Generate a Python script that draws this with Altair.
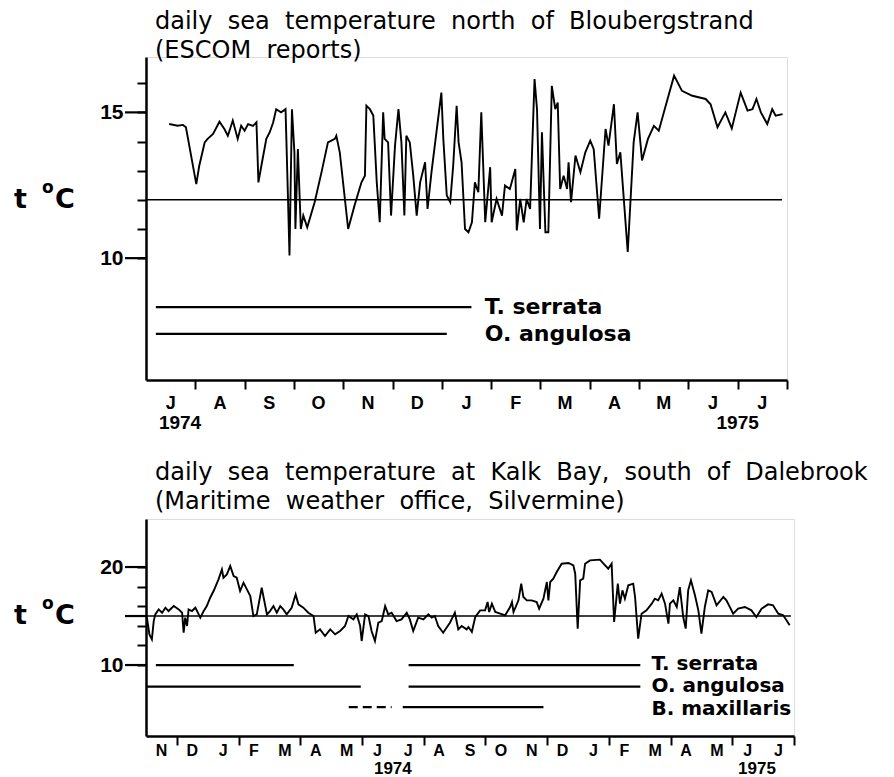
import altair as alt
import pandas as pd

# ---------------- top panel: Bloubergstrand (months since 1 Jul 1974) ----------------
top_month = [0.47,0.64,0.75,0.81,1.02,1.08,1.19,1.25,1.36,1.49,1.59,1.66,1.76,1.86,1.93,
             2.00,2.07,2.17,2.24,2.28,2.34,2.44,2.51,2.58,2.64,2.74,2.83,2.88,2.91,2.96,
             3.01,3.03,3.08,3.14,3.19,3.27,3.42,3.56,3.69,3.83,3.86,3.93,
             4.10,4.23,4.37,4.44,4.47,4.54,4.61,4.68,4.74,4.81,4.84,4.91,4.97,
             5.05,5.12,5.18,5.24,5.28,5.35,5.42,5.49,5.56,5.66,5.71,5.79,5.99,
             6.03,6.10,6.17,6.23,6.30,6.34,6.40,6.47,6.54,6.61,6.67,6.74,6.80,
             6.88,6.98,
             7.01,7.11,7.22,7.28,7.38,7.49,7.52,7.59,7.66,7.72,7.79,7.88,7.93,7.99,
             8.03,8.10,8.16,8.23,8.30,8.35,8.40,8.47,8.54,8.57,8.62,8.71,8.81,8.91,
             9.01,9.08,9.19,9.32,9.38,9.49,9.55,9.62,9.77,9.89,9.97,
             10.06,10.18,10.30,10.40,10.52,10.71,10.87,
             11.08,11.35,11.45,11.59,11.75,11.88,
             12.06,12.20,12.30,12.38,12.47,12.60,12.70,12.77,12.91]
top_temp = [14.60,14.54,14.57,14.49,12.54,13.17,13.97,14.09,14.26,14.68,14.43,14.20,14.72,14.09,14.54,
            14.37,14.60,14.54,14.66,12.60,13.17,14.09,14.32,14.66,15.11,15.00,15.11,12.03,10.09,15.11,
            13.63,11.00,13.74,11.00,11.46,11.06,11.92,12.95,13.97,14.09,14.20,13.63,
            11.00,11.81,12.60,12.83,15.23,15.11,14.89,12.60,11.23,15.00,14.09,13.97,11.46,
            13.86,15.11,13.97,11.46,14.20,13.97,12.83,11.46,12.60,13.29,11.69,12.95,15.68,
            14.09,12.15,11.92,13.17,15.23,13.97,13.29,11.00,10.89,11.23,12.60,12.26,15.00,
            11.23,13.12,
            11.23,12.03,11.46,12.49,12.37,13.06,10.95,12.03,11.23,12.03,11.69,16.14,15.11,11.00,
            14.32,10.89,10.89,15.91,15.11,15.34,12.37,12.83,12.37,13.29,11.92,13.52,12.95,13.63,
            14.03,13.74,11.35,14.43,13.86,15.28,13.23,13.63,10.21,13.97,15.00,
            13.35,14.09,14.54,14.37,15.11,16.26,15.74,
            15.57,15.46,15.28,14.49,15.00,14.45,
            15.68,15.06,15.11,15.46,15.00,14.60,15.11,14.89,14.94]
top_months_lbl = ["J", "A", "S", "O", "N", "D", "J", "F", "M", "A", "M", "J", "J"]
top_years = ["1974", "1975"]
top_year_pos = [0.69, 12.0]
top_ref = 12
top_ref_end = 12.9
top_sp_name = ["T. serrata", "O. angulosa"]
top_sp_start = [0.2, 0.2]
top_sp_end = [6.6, 6.1]
top_sp_y = [8.32, 7.4]
top_sp_label_y = [8.32, 7.4]
top_sp_label_x = 6.87

# ---------------- bottom panel: Kalk Bay (months since 1 Nov 1973) ----------------
bot_month = [0.03,0.11,0.19,0.25,0.30,0.41,0.52,0.63,0.73,0.90,
             1.06,1.17,1.22,1.27,1.33,1.38,1.49,1.60,1.76,1.87,1.97,
             2.08,2.19,2.35,2.46,2.51,2.62,2.73,2.84,2.94,
             3.05,3.16,3.27,3.38,3.48,3.59,3.75,3.92,
             4.02,4.13,4.24,4.35,4.45,4.56,4.72,4.85,4.94,
             5.10,5.26,5.43,5.50,5.64,5.80,5.97,
             6.13,6.29,6.45,6.56,6.72,6.83,6.94,6.99,
             7.10,7.21,7.31,7.42,7.53,7.64,7.75,7.85,7.96,
             8.12,8.28,8.45,8.55,8.66,8.82,8.99,
             9.15,9.26,9.36,9.47,9.63,9.85,
             10.01,10.12,10.23,10.39,
             10.45,10.56,10.67,10.83,10.99,
             11.07,11.12,11.21,11.32,11.48,11.64,11.80,11.86,11.91,
             12.07,12.16,12.23,12.34,12.50,12.66,12.74,12.88,12.99,
             13.04,13.10,13.20,13.31,13.47,13.69,13.85,13.91,13.99,
             14.07,14.17,14.23,14.39,14.71,14.88,14.98,
             15.09,15.17,15.29,15.36,15.44,15.52,15.63,15.79,15.85,15.95,
             16.06,16.22,16.39,16.49,16.60,16.71,16.82,16.93,16.98,
             17.09,17.20,17.30,17.41,17.49,17.57,17.66,17.79,17.90,
             18.00,18.11,18.22,18.33,18.49,18.71,18.81,
             19.03,19.19,19.41,19.62,19.78,19.95,
             20.16,20.32,20.49,20.65,20.86]
bot_temp = [14.83,13.13,12.62,14.49,15.17,15.68,15.34,15.85,15.51,16.02,
            15.68,15.34,13.30,14.83,13.98,15.68,15.51,15.85,14.83,15.51,16.02,
            16.87,17.55,18.74,19.76,18.91,19.25,20.10,19.08,18.91,
            17.55,18.40,17.72,17.04,15.00,15.17,17.89,15.17,
            15.51,16.02,15.34,16.02,15.68,15.17,15.85,17.21,16.19,
            15.85,15.34,15.00,13.30,13.64,12.96,13.64,
            13.13,13.47,13.98,15.00,14.66,15.17,13.98,12.45,
            15.17,15.00,13.47,12.45,14.32,14.49,16.02,15.17,15.34,
            14.49,14.66,15.34,14.66,13.47,14.83,14.66,
            15.17,14.83,15.00,13.98,13.30,14.32,
            15.34,13.64,13.98,13.64,
            13.88,13.37,14.90,15.58,15.58,
            16.43,15.41,16.26,15.41,15.24,15.07,15.92,16.43,15.41,
            16.60,18.30,16.94,16.60,16.60,16.43,15.75,16.77,18.47,
            16.60,18.47,18.81,19.49,20.34,20.41,20.17,19.32,13.71,
            18.64,18.81,20.34,20.68,20.75,20.17,19.83,
            20.34,14.39,18.30,16.26,17.62,16.77,18.13,18.30,16.94,12.69,
            15.24,15.58,16.26,16.77,16.60,17.28,16.26,14.22,16.26,
            16.60,15.92,17.96,14.90,13.71,17.62,18.64,17.11,15.58,
            13.20,15.92,17.62,17.45,16.09,16.94,16.60,
            15.24,15.75,15.92,15.58,14.90,15.75,
            16.19,16.09,15.24,15.07,14.05]
bot_months_lbl = ["N", "D", "J", "F", "M", "A", "M", "J", "J", "A", "S", "O",
                  "N", "D", "J", "F", "M", "A", "M", "J", "J"]
bot_years = ["1974", "1975"]
bot_year_pos = [8.0, 19.8]
bot_ref = 15
bot_ref_end = 20.9
bot_seg_start = [0.32, 8.51, 0.0, 8.51, 8.32]
bot_seg_end = [4.79, 16.02, 6.96, 16.02, 12.88]
bot_seg_y = [10.0, 10.0, 7.8, 7.8, 5.7]
bot_dash_start = [6.57]
bot_dash_end = [7.96]
bot_dash_y = [5.7]
bot_sp_name = ["T. serrata", "O. angulosa", "B. maxillaris"]
bot_sp_label_y = [10.15, 7.85, 5.5]
bot_sp_label_x = 16.38

BOLD_NUM = "Liberation Sans"
SANS = "DejaVu Sans"
GAP = " \u00a0"  # wide word gaps, as in the typed original


def panel(months, temps, mlabels, years, year_pos, ref, ref_end,
          seg_start, seg_end, seg_y, sp_names, sp_y, sp_label_x,
          W, H, xmax, ydom, minor_vals, major_vals, title_lines, title_offset,
          unit_y, lbl_dy, lbl_size, yr_dy, yr_size, sp_size,
          dash_start=None, dash_end=None, dash_y=None):
    xs = alt.Scale(domain=[0, xmax], nice=False, zero=False)
    ys = alt.Scale(domain=ydom, nice=False, zero=False)

    series = pd.DataFrame({"m": months, "t": temps})
    base_line = alt.Chart(series).mark_line(color="black", strokeWidth=1.9).encode(
        x=alt.X("m:Q", scale=xs,
                axis=alt.Axis(values=list(range(1, xmax + 1)), labels=False, tickSize=9,
                              tickWidth=2, domainWidth=2.5, title=None, grid=False,
                              domainColor="black", tickColor="black")),
        y=alt.Y("t:Q", scale=ys,
                axis=alt.Axis(values=minor_vals,
                              labelExpr="datum.value % 5 == 0 ? datum.label : ''",
                              tickSize=9, tickWidth=2, domainWidth=2.5, labelPadding=14,
                              labelFont=BOLD_NUM, labelFontSize=21, labelFontWeight="bold",
                              labelColor="black", title=None, grid=False,
                              domainColor="black", tickColor="black")),
    )

    refdf = pd.DataFrame({"y": [ref], "x0": [0], "x1": [ref_end]})
    ref_rule = alt.Chart(refdf).mark_rule(color="black", strokeWidth=1.5).encode(
        x=alt.X("x0:Q", scale=xs), x2="x1:Q", y=alt.Y("y:Q", scale=ys))

    majdf = pd.DataFrame({"y": major_vals})
    maj = alt.Chart(majdf).mark_rule(color="black", strokeWidth=2.2).encode(
        x=alt.value(-21), x2=alt.value(0), y=alt.Y("y:Q", scale=ys))

    segdf = pd.DataFrame({"a": seg_start, "b": seg_end, "y": seg_y})
    segs = alt.Chart(segdf).mark_rule(color="black", strokeWidth=2.2).encode(
        x=alt.X("a:Q", scale=xs), x2="b:Q", y=alt.Y("y:Q", scale=ys))

    layers = [ref_rule, base_line, maj, segs]

    if dash_start:
        dashdf = pd.DataFrame({"a": dash_start, "b": dash_end, "y": dash_y})
        layers.append(alt.Chart(dashdf).mark_rule(color="black", strokeWidth=2.2,
                                                  strokeDash=[9, 5]).encode(
            x=alt.X("a:Q", scale=xs), x2="b:Q", y=alt.Y("y:Q", scale=ys)))

    spdf = pd.DataFrame({"name": sp_names, "y": sp_y, "x": [sp_label_x] * len(sp_names)})
    layers.append(alt.Chart(spdf).mark_text(font=SANS, fontSize=sp_size, fontWeight="bold",
                                            align="left", baseline="middle", color="black").encode(
        x=alt.X("x:Q", scale=xs), y=alt.Y("y:Q", scale=ys), text="name:N"))

    mdf = pd.DataFrame({"lbl": mlabels, "pos": [i + 0.5 for i in range(len(mlabels))]})
    layers.append(alt.Chart(mdf).mark_text(font=BOLD_NUM, fontSize=lbl_size, fontWeight="bold",
                                           baseline="middle", color="black").encode(
        x=alt.X("pos:Q", scale=xs), y=alt.value(H + lbl_dy), text="lbl:N"))

    ydf = pd.DataFrame({"yr": years, "pos": year_pos})
    layers.append(alt.Chart(ydf).mark_text(font=BOLD_NUM, fontSize=yr_size, fontWeight="bold",
                                           baseline="middle", color="black").encode(
        x=alt.X("pos:Q", scale=xs), y=alt.value(H + yr_dy), text="yr:N"))

    unit = pd.DataFrame({"y": [unit_y]})
    layers.append(alt.Chart(unit).mark_text(font=SANS, fontSize=27, fontWeight="bold",
                                            align="left", baseline="middle", color="black",
                                            text="t").encode(
        x=alt.value(-132), y=alt.Y("y:Q", scale=ys)))
    layers.append(alt.Chart(unit).mark_text(font=SANS, fontSize=17, fontWeight="bold",
                                            align="left", baseline="middle", color="black",
                                            text="o", dy=-12).encode(
        x=alt.value(-104), y=alt.Y("y:Q", scale=ys)))
    layers.append(alt.Chart(unit).mark_text(font=SANS, fontSize=27, fontWeight="bold",
                                            align="left", baseline="middle", color="black",
                                            text="C").encode(
        x=alt.value(-91), y=alt.Y("y:Q", scale=ys)))

    return alt.layer(*layers).properties(
        width=W, height=H,
        title=alt.TitleParams(text=title_lines, anchor="start", frame="group", dx=9,
                              font=SANS, fontSize=24, fontWeight="normal", lineHeight=29,
                              color="black", offset=title_offset))


top_title = [GAP.join(["daily", "sea", "temperature", "north", "of", "Bloubergstrand"]),
             GAP.join(["(ESCOM", "reports)"])]
bot_title = [GAP.join(["daily", "sea", "temperature", "at", "Kalk", "Bay,", "south", "of", "Dalebrook"]),
             GAP.join(["(Maritime", "weather", "office,", "Silvermine)"])]

top = panel(top_month, top_temp, top_months_lbl, top_years, top_year_pos, top_ref, top_ref_end,
            top_sp_start, top_sp_end, top_sp_y, top_sp_name, top_sp_label_y, top_sp_label_x,
            W=641, H=323, xmax=13, ydom=[5.82, 16.9],
            minor_vals=[10, 11, 12, 13, 14, 15, 16], major_vals=[10, 15],
            title_lines=top_title, title_offset=-6,
            unit_y=12, lbl_dy=24, lbl_size=18, yr_dy=43, yr_size=19, sp_size=22)

bot = panel(bot_month, bot_temp, bot_months_lbl, bot_years, bot_year_pos, bot_ref, bot_ref_end,
            bot_seg_start, bot_seg_end, bot_seg_y, bot_sp_name, bot_sp_label_y, bot_sp_label_x,
            W=648, H=217, xmax=21, ydom=[2.76, 24.9],
            minor_vals=list(range(10, 21)), major_vals=[10, 15, 20],
            title_lines=bot_title, title_offset=5,
            unit_y=15, lbl_dy=15, lbl_size=16, yr_dy=33, yr_size=17, sp_size=20,
            dash_start=bot_dash_start, dash_end=bot_dash_end, dash_y=bot_dash_y)

chart = alt.vconcat(top, bot, spacing=26).properties(
    padding={"left": 5, "top": 1, "right": 5, "bottom": 0}
).configure_view(stroke=None).configure(background="white")

chart.save("out.html", embed_options={"renderer": "svg", "actions": False})
